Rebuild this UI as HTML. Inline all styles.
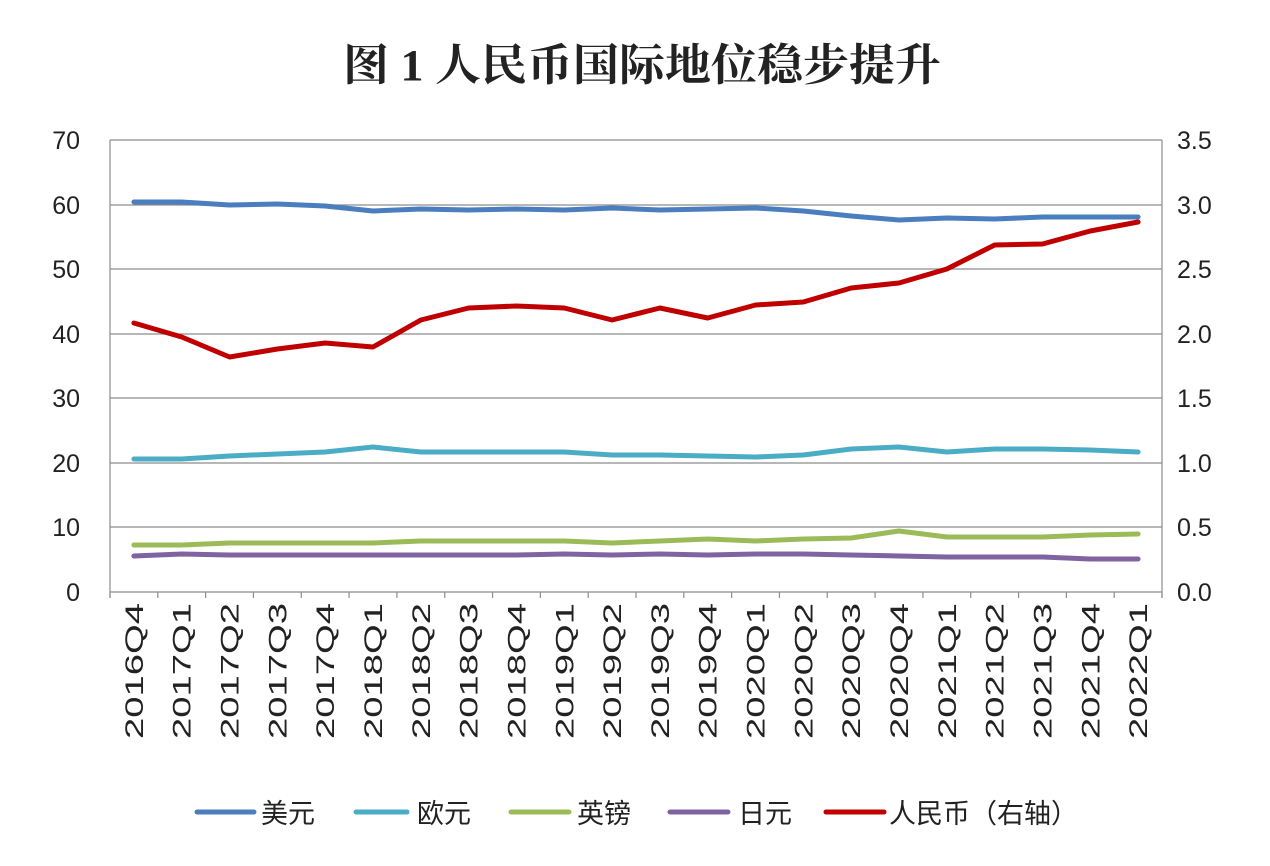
<!DOCTYPE html>
<html><head><meta charset="utf-8"><style>
body{margin:0;background:#fff;}
svg{display:block;}
text{font-family:"Liberation Sans","Noto Sans CJK SC",sans-serif;fill:#222;}
</style></head><body>
<svg width="1270" height="866" xmlns="http://www.w3.org/2000/svg">
<text x="343" y="80" textLength="598" lengthAdjust="spacingAndGlyphs" style="font-family:'Liberation Serif','Noto Serif CJK SC',serif;font-weight:bold" font-size="44">图 1 人民币国际地位稳步提升</text>
<g stroke="#8c8c8c" stroke-width="1.2">
<line x1="110" y1="140" x2="1162" y2="140"/>
<line x1="110" y1="205" x2="1162" y2="205"/>
<line x1="110" y1="269" x2="1162" y2="269"/>
<line x1="110" y1="334" x2="1162" y2="334"/>
<line x1="110" y1="398" x2="1162" y2="398"/>
<line x1="110" y1="463" x2="1162" y2="463"/>
<line x1="110" y1="527" x2="1162" y2="527"/>
<line x1="110" y1="592" x2="1162" y2="592"/>
<line x1="110" y1="140" x2="110" y2="598"/>
<line x1="1162" y1="140" x2="1162" y2="598"/>
</g>
<g font-size="25" text-anchor="end">
<text x="80" y="149">70</text><text x="80" y="214">60</text><text x="80" y="278">50</text><text x="80" y="343">40</text><text x="80" y="407">30</text><text x="80" y="472">20</text><text x="80" y="536">10</text><text x="80" y="601">0</text>
</g>
<g font-size="25">
<text x="1177" y="149">3.5</text><text x="1177" y="214">3.0</text><text x="1177" y="278">2.5</text><text x="1177" y="343">2.0</text><text x="1177" y="407">1.5</text><text x="1177" y="472">1.0</text><text x="1177" y="536">0.5</text><text x="1177" y="601">0.0</text>
</g>
<g id="ticks" stroke="#8c8c8c" stroke-width="1.2"></g>
<g id="xl" font-size="25" text-anchor="end"></g>
<g fill="none" stroke-width="5" stroke-linejoin="round" stroke-linecap="round">
<polyline id="usd" stroke="#4a7ebf"/>
<polyline id="eur" stroke="#4bacc6"/>
<polyline id="gbp" stroke="#9bbb59"/>
<polyline id="jpy" stroke="#8064a2"/>
<polyline id="rmb" stroke="#c00000"/>
</g>
<g stroke-width="5" stroke-linecap="round">
<line x1="197" y1="812" x2="254" y2="812" stroke="#4a7ebf"/>
<line x1="356" y1="812" x2="407" y2="812" stroke="#4bacc6"/>
<line x1="511" y1="812" x2="569" y2="812" stroke="#9bbb59"/>
<line x1="670" y1="812" x2="728" y2="812" stroke="#8064a2"/>
<line x1="826" y1="812" x2="884" y2="812" stroke="#c00000"/>
</g>
<g font-size="27">
<text x="261" y="823">美元</text><text x="417" y="823">欧元</text><text x="577" y="823">英镑</text><text x="738" y="823">日元</text><text x="889" y="823">人民币（右轴）</text>
</g>
</svg>
<script>
var cats=["2016Q4","2017Q1","2017Q2","2017Q3","2017Q4","2018Q1","2018Q2","2018Q3","2018Q4","2019Q1","2019Q2","2019Q3","2019Q4","2020Q1","2020Q2","2020Q3","2020Q4","2021Q1","2021Q2","2021Q3","2021Q4","2022Q1"];
var w=(1162-110)/22,ns="http://www.w3.org/2000/svg";
var t=document.getElementById("ticks"),xl=document.getElementById("xl");
for(var i=0;i<=22;i++){var l=document.createElementNS(ns,"line");var x=110+i*w;l.setAttribute("x1",x);l.setAttribute("x2",x);l.setAttribute("y1",592);l.setAttribute("y2",598);t.appendChild(l);}
cats.forEach(function(c,i){var x=110+w/2+i*w;var tx=document.createElementNS(ns,"text");tx.setAttribute("transform","translate("+(x+9)+",603) rotate(-90)");tx.setAttribute("textLength","136");tx.setAttribute("lengthAdjust","spacingAndGlyphs");tx.textContent=c;xl.appendChild(tx);});
var d={usd:[202,202,205,204,206,211,209,210,209,210,208,210,209,208,211,216,220,218,219,217,217,217],
eur:[459,459,456,454,452,447,452,452,452,452,455,455,456,457,455,449,447,452,449,449,450,452],
gbp:[545,545,543,543,543,543,541,541,541,541,543,541,539,541,539,538,531,537,537,537,535,534],
jpy:[556,554,555,555,555,555,555,555,555,554,555,554,555,554,554,555,556,557,557,557,559,559],
rmb:[323,337,357,349,343,347,320,308,306,308,320,308,318,305,302,288,283,269,245,244,231,222]};
for(var k in d){document.getElementById(k).setAttribute("points",d[k].map(function(y,i){return (110+w/2+i*w)+","+y;}).join(" "));}
</script>
</body></html>
